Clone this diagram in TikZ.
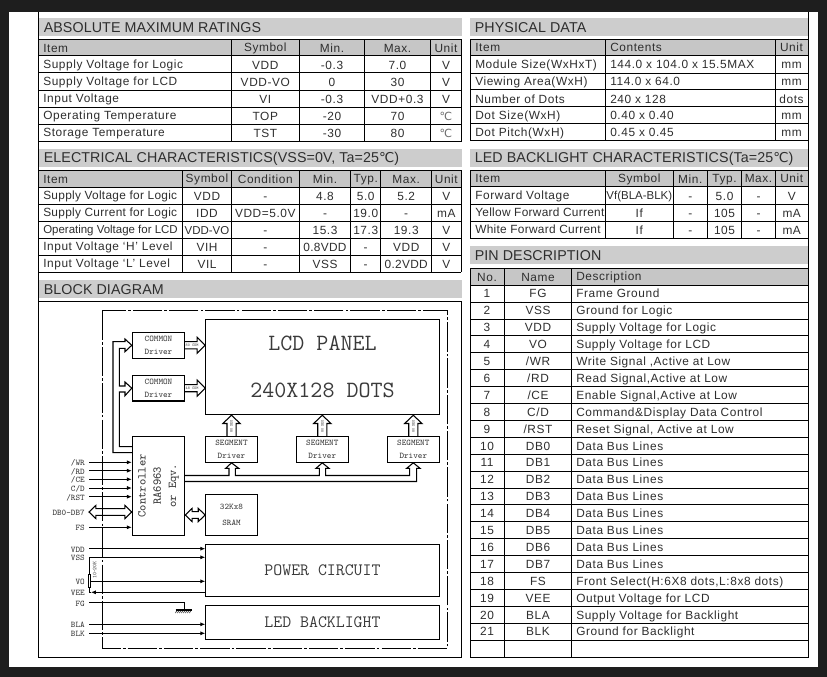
\documentclass[tikz,border=0pt]{standalone}
\usepackage{fontspec}
\usetikzlibrary{arrows.meta,calc,patterns}
\setmainfont{Liberation Sans}
\newfontfamily\tabfont[LetterSpace=5]{Liberation Sans}
\newfontfamily\tightfont{Liberation Sans}
\newfontfamily\midfont[LetterSpace=2.5]{Liberation Sans}
\newfontfamily\headfont[LetterSpace=0.7]{Liberation Sans}
\newfontfamily\dvfont{DejaVu Sans}
\definecolor{sheetdark}{HTML}{1E1E1E}
\definecolor{bandgray}{HTML}{CDCDCD}
\definecolor{headgray}{HTML}{C6C6C6}
\definecolor{inkgray}{HTML}{2E2E2E}
\definecolor{blockink}{HTML}{3A3A3A}
\newcommand{\degcel}{{\dvfont\color{inkgray!70}\fontsize{8.4}{10}\selectfont ℃}}
\newcommand{\degband}{{\dvfont\fontsize{10.2}{11}\selectfont ℃}}
\newcount\cellno
\tikzset{
  x=0.75pt,y=-0.75pt,
  rulex/.style={line width=0.75pt,black},
  bandtxt/.style={font=\headfont\fontsize{10.7}{12}\selectfont,text=inkgray,anchor=west,inner sep=0pt},
  celltxt/.style={font=\tabfont\fontsize{8.9}{10}\selectfont,text=inkgray,inner sep=0pt,text height=6.4pt,text depth=0pt},
  blockbox/.style={draw=black,line width=0.8pt,inner sep=0pt,align=center,text=blockink},
  sigl/.style={line width=0.6pt,black},
  sigtip/.style={sigl,-{Latex[length=3.6pt,width=3pt]}},
  hollow/.style={line width=0.8pt,black,line join=miter},
  pinlab/.style={font=\ttfamily\fontsize{6.5}{8}\selectfont,text=blockink,anchor=east,inner xsep=3pt,inner ysep=0pt,text height=5pt,text depth=0pt},
  tiny/.style={font=\ttfamily\fontsize{3}{3}\selectfont,text=blockink,inner sep=0pt},
}
\newcommand{\cellL}[3]{\global\advance\cellno by 1\relax\node[celltxt,anchor=west,name=cell\the\cellno] at (#1,#2) {#3};}
\newcommand{\cellC}[3]{\global\advance\cellno by 1\relax\node[celltxt,anchor=center,name=cell\the\cellno] at (#1,#2) {#3};}
\newcommand{\bandhead}[6]{%
  \fill[bandgray] (#1,#2) rectangle (#3,#4);
  \node[bandtxt,name=#6] at ({#1+4.5},{(#2+#4)/2+0.8}) {#5};}
\newcommand{\tabgrid}[6]{% x0 x1 ytop yhead rows cols
  \fill[headgray] (#1,#3) rectangle (#2,#4);
  \foreach \yy in {#3,#4,#5} {\draw[rulex] (#1,\yy) -- (#2,\yy);}
  \foreach \xx in {#1,#6,#2} {\pgfmathsetmacro{\ylast}{\lastrow}\draw[rulex] (\xx,#3) -- (\xx,\ylast);}
}
\newcommand{\hollowR}[2]{\draw[hollow] let \p1=#1,\p2=#2 in
  (\x1,{\y1+2.7pt}) -- ({\x2-6pt},{\y1+2.7pt}) -- ({\x2-6pt},{\y1+6pt}) -- (\x2,\y1) -- ({\x2-6pt},{\y1-6pt}) -- ({\x2-6pt},{\y1-2.7pt}) -- (\x1,{\y1-2.7pt});}
\newcommand{\hollowU}[2]{\draw[hollow] let \p1=#1,\p2=#2 in
  ({\x1-3.4pt},\y1) -- ({\x1-3.4pt},{\y2-6.2pt}) -- ({\x1-6.5pt},{\y2-6.2pt}) -- (\x1,\y2) -- ({\x1+6.5pt},{\y2-6.2pt}) -- ({\x1+3.4pt},{\y2-6.2pt}) -- ({\x1+3.4pt},\y1);}
\newcommand{\hollowD}[2]{\draw[hollow] let \p1=#1,\p2=#2 in
  (\x1,\y1) -- ({\x1+5.2pt},{\y1+5pt}) -- ({\x1+5.2pt},{\y1+2.5pt}) -- ({\x2-5.2pt},{\y1+2.5pt}) -- ({\x2-5.2pt},{\y1+5pt}) -- (\x2,\y1) -- ({\x2-5.2pt},{\y1-5pt}) -- ({\x2-5.2pt},{\y1-2.5pt}) -- ({\x1+5.2pt},{\y1-2.5pt}) -- ({\x1+5.2pt},{\y1-5pt}) -- cycle;}
% name x1 y1 x2 y2 size leading text
\newcommand{\blocknode}[8]{\node[blockbox,font=\ttfamily\fontsize{#6}{#7}\selectfont,name=#1,minimum width={(#4-#2)*0.75pt},minimum height={(#5-#3)*0.75pt}] at ({(#2+#4)/2},{(#3+#5)/2}) {#8};}
\begin{document}
\begin{tikzpicture}
\useasboundingbox (0,0) rectangle (827,677);
\fill[sheetdark] (0,0) rectangle (827,677);
\fill[white] (9,12) rectangle (818,667);
% sheet frame
\draw[rulex] (38.5,12) -- (38.5,657) -- (461.5,657) -- (461.5,301) -- (38.5,301);
\draw[rulex] (808,12) -- (808,657) -- (470,657);
% ---- absolute maximum
\bandhead{39}{18}{462}{36}{ABSOLUTE MAXIMUM RATINGS}{hA}
\def\lastrow{141.3}
\tabgrid{38.7}{461.7}{39.5}{56}{73,90.7,107.7,124.7,141.3}{231.3,299.3,364.7,430.3}
\cellL{43}{47.8}{Item}\cellC{265.3}{46.8}{Symbol}\cellC{332}{47.8}{Min.}\cellC{397.5}{47.8}{Max.}\cellC{446}{47.8}{Unit}
\cellL{43}{64}{Supply Voltage for Logic}\cellC{265.3}{65}{VDD}\cellC{332}{65}{-0.3}\cellC{397.5}{65}{7.0}\cellC{446}{65}{V}
\cellL{43}{81}{Supply Voltage for LCD}\cellC{265.3}{82}{VDD-VO}\cellC{332}{82}{0}\cellC{397.5}{82}{30}\cellC{446}{82}{V}
\cellL{43}{98}{Input Voltage}\cellC{265.3}{99}{VI}\cellC{332}{99}{-0.3}\cellC{397.5}{99}{VDD+0.3}\cellC{446}{99}{V}
\cellL{43}{115}{Operating Temperature}\cellC{265.3}{116}{TOP}\cellC{332}{116}{-20}\cellC{397.5}{116}{70}\cellC{446}{116}{\degcel}
\cellL{43}{132}{Storage Temperature}\cellC{265.3}{133}{TST}\cellC{332}{133}{-30}\cellC{397.5}{133}{80}\cellC{446}{133}{\degcel}
% ---- electrical
\bandhead{39}{149}{462}{167}{ELECTRICAL CHARACTERISTICS(VSS=0V, Ta=25\degband)}{hB}
\def\lastrow{272}
\tabgrid{38.7}{461.2}{170.3}{187.3}{204.7,221.3,238.3,255.3,272}{182.7,231.3,299.3,350.7,380.7,431.7}
\cellL{43}{179}{Item}\cellC{207}{178}{Symbol}\cellC{265.3}{179.5}{Condition}\cellC{325}{179.5}{Min.}\cellC{365.7}{178.5}{Typ.}\cellC{406.2}{179.5}{Max.}\cellC{446.3}{179}{Unit}
\cellL{43}{195.5}{\midfont Supply Voltage for Logic}\cellC{207}{196}{VDD}\cellC{265.3}{196}{-}\cellC{325}{196}{4.8}\cellC{365.7}{196}{5.0}\cellC{406.2}{196}{5.2}\cellC{446.3}{196}{V}
\cellL{43}{212}{\midfont Supply Current for Logic}\cellC{207}{213}{IDD}\cellC{265.3}{213}{VDD=5.0V}\cellC{325}{213}{-}\cellC{365.7}{213}{19.0}\cellC{406.2}{213}{-}\cellC{446.3}{213}{mA}
\cellL{43}{229}{\tightfont\fontsize{8.6}{10}\selectfont Operating Voltage for LCD}\cellC{207}{230}{\tightfont\fontsize{8.6}{10}\selectfont VDD-VO}\cellC{265.3}{230}{-}\cellC{325}{230}{15.3}\cellC{365.7}{230}{17.3}\cellC{406.2}{230}{19.3}\cellC{446.3}{230}{V}
\cellL{43}{246}{Input Voltage ‘H’ Level}\cellC{207}{247}{VIH}\cellC{265.3}{247}{-}\cellC{325}{247}{\midfont 0.8VDD}\cellC{365.7}{247}{-}\cellC{406.2}{247}{VDD}\cellC{446.3}{247}{V}
\cellL{43}{263}{Input Voltage ‘L’ Level}\cellC{207}{264}{VIL}\cellC{265.3}{264}{-}\cellC{325}{264}{VSS}\cellC{365.7}{264}{-}\cellC{406.2}{264}{\midfont 0.2VDD}\cellC{446.3}{264}{V}
% ---- physical
\bandhead{470}{18}{808}{36}{PHYSICAL DATA}{hC}
\def\lastrow{141}
\tabgrid{470}{808}{39.3}{56}{73.3,90,107,124,141}{605.3,775.3}
\cellL{475}{47.6}{Item}\cellL{610}{47.6}{Contents}\cellC{791.5}{47.6}{Unit}
\cellL{475}{64.6}{Module Size(WxHxT)}\cellL{610}{64.6}{144.0 x 104.0 x 15.5MAX}\cellC{791.5}{64.6}{mm}
\cellL{475}{81.6}{Viewing Area(WxH)}\cellL{610}{81.6}{114.0 x 64.0}\cellC{791.5}{81.6}{mm}
\cellL{475}{98.8}{Number of Dots}\cellL{610}{98.8}{240 x 128}\cellC{791.5}{98.8}{dots}
\cellL{475}{115.5}{Dot Size(WxH)}\cellL{610}{115.5}{0.40 x 0.40}\cellC{791.5}{115.5}{mm}
\cellL{475}{132.5}{Dot Pitch(WxH)}\cellL{610}{132.5}{0.45 x 0.45}\cellC{791.5}{132.5}{mm}
% ---- LED backlight
\bandhead{470}{149.3}{808}{167}{LED BACKLIGHT CHARACTERISTICS(Ta=25\degband)}{hD}
\def\lastrow{238.3}
\tabgrid{470}{808}{170.3}{186.7}{204.3,221.3,238.3}{605.3,673.3,707.3,741.7,775.3}
\cellL{475}{178.5}{Item}\cellC{639.3}{178}{Symbol}\cellC{690.3}{179}{Min.}\cellC{724.5}{178}{Typ.}\cellC{758.5}{178}{Max.}\cellC{791.7}{178.5}{Unit}
\cellL{475}{195}{Forward Voltage}\cellC{639.3}{195}{\tightfont\fontsize{8.6}{10}\selectfont Vf(BLA-BLK)}\cellC{690.3}{196}{-}\cellC{724.5}{196}{5.0}\cellC{758.5}{196}{-}\cellC{791.7}{196}{V}
\cellL{475}{212.5}{\midfont Yellow Forward Current}\cellC{639.3}{213}{If}\cellC{690.3}{213}{-}\cellC{724.5}{213}{105}\cellC{758.5}{213}{-}\cellC{791.7}{213}{mA}
\cellL{475}{229.5}{\midfont White Forward Current}\cellC{639.3}{230}{If}\cellC{690.3}{230}{-}\cellC{724.5}{230}{105}\cellC{758.5}{230}{-}\cellC{791.7}{230}{mA}
% ---- pin description
\bandhead{470}{246}{808}{264}{PIN DESCRIPTION}{hE}
\fill[headgray] (470,268.3) rectangle (808,285.2);
\foreach \r in {0,...,23} {\draw[rulex] (470,{268.3+16.9*\r}) -- (808,{268.3+16.9*\r});}
\foreach \c in {470,504.3,571.3,808} {\draw[rulex] (\c,268.3) -- (\c,657);}
\cellC{487}{277.5}{No.}\cellC{538}{277.5}{Name}\cellL{576}{276}{Description}
\foreach \n/\nm/\ds [count=\i] in {
 1/FG/{Frame Ground},2/VSS/{Ground for Logic},3/VDD/{Supply Voltage for Logic},4/VO/{Supply Voltage for LCD},
 5/{/WR}/{Write Signal ,Active at Low},6/{/RD}/{Read Signal,Active at Low},7/{/CE}/{Enable Signal,Active at Low},
 8/{C/D}/{Command\&Display Data Control},9/{/RST}/{Reset Signal, Active at Low},
 10/DB0/{Data Bus Lines},11/DB1/{Data Bus Lines},12/DB2/{Data Bus Lines},13/DB3/{Data Bus Lines},
 14/DB4/{Data Bus Lines},15/DB5/{Data Bus Lines},16/DB6/{Data Bus Lines},17/DB7/{Data Bus Lines},
 18/FS/{Front Select(H:6X8 dots,L:8x8 dots)},19/VEE/{Output Voltage for LCD},20/BLA/{Supply Voltage for Backlight},21/BLK/{Ground for Backlight}}
{
 \pgfmathsetmacro{\yc}{276.8+16.9*\i}
 \node[celltxt,name=no\i] at (487,\yc) {\n};
 \node[celltxt,name=nm\i] at (538,\yc) {\nm};
 \node[celltxt,anchor=west,name=ds\i] at (576,\yc) {\ds};
}
% ---- block diagram
\bandhead{39}{280}{462}{298}{BLOCK DIAGRAM}{hF}
\draw[line width=0.7pt,black,dash pattern=on 22pt off 1.6pt on 2pt off 1.6pt] (102.3,310.7) rectangle (447.7,648);
\blocknode{lcd}{205.7}{319.3}{439.3}{414.7}{17.5}{35}{LCD PANEL\\240X128 DOTS}
\blocknode{cmna}{132.3}{332.3}{184.7}{358.3}{6.5}{9.75}{COMMON\\Driver}
\blocknode{cmnb}{132.3}{375.3}{184.7}{401}{6.5}{9.75}{COMMON\\Driver}
\blocknode{ctrl}{132.3}{436.3}{184.7}{535.3}{9}{11.5}{\rotatebox{90}{\parbox{70pt}{\centering Controller\\RA6963\\or Eqv.}}}
\blocknode{sega}{205.7}{436.3}{257.3}{462.3}{6.5}{9.75}{SEGMENT\\Driver}
\blocknode{segb}{296.3}{436.3}{348.3}{462.3}{6.5}{9.75}{SEGMENT\\Driver}
\blocknode{segc}{387.3}{436.3}{439.3}{462.3}{6.5}{9.75}{SEGMENT\\Driver}
\blocknode{sram}{205.7}{494.3}{257.3}{535.3}{6.5}{12}{32Kx8\\SRAM}
\blocknode{pwr}{205.7}{544.3}{439.3}{596.3}{13}{15}{POWER CIRCUIT}
\blocknode{led}{205.7}{605.3}{439.3}{639.3}{13}{15}{LED BACKLIGHT}
% hollow arrows
\hollowR{(cmna.east)}{(cmna.east -| lcd.west)}
\hollowR{(cmnb.east)}{(cmnb.east -| lcd.west)}
\node[tiny,name=tca] at (192,345.5) {80 COM};
\node[tiny,name=tcb] at (192,388.5) {48 COM};
\hollowU{(sega.north)}{(sega.north |- lcd.south)}
\hollowU{(segb.north)}{(segb.north |- lcd.south)}
\hollowU{(segc.north)}{(segc.north |- lcd.south)}
\node[tiny,rotate=90,name=tsa] at (231.5,426.5) {80 SEG};
\node[tiny,rotate=90,name=tsb] at (322.3,426.5) {80 SEG};
\node[tiny,rotate=90,name=tsc] at (413.3,426.5) {80 SEG};
% controller to common drivers
\draw[hollow] (ctrl.west |- 0,452.7) -- (113,452.7) -- (113,341.7) -- (125,341.7) -- (125,339) -- (cmna.west) -- (125,351.7) -- (125,348.3) -- (119.3,348.3) -- (119.3,386) -- (125,386) -- (125,382) -- (cmnb.west) -- (125,395.7) -- (125,392) -- (119.3,392) -- (119.3,446.7) -- (ctrl.west |- 0,446.7);
% controller to segment drivers
\draw[hollow] (ctrl.east |- 0,475.5) -- (229,475.5) -- (229,468.3) -- (225.7,468.3) -- (sega.south) -- (238.7,468.3) -- (235.3,468.3) -- (235.3,475.5)
  -- (319.3,475.5) -- (319.3,468.3) -- (316,468.3) -- (segb.south) -- (329,468.3) -- (325.7,468.3) -- (325.7,475.5)
  -- (409.7,475.5) -- (409.7,468.3) -- (406.7,468.3) -- (segc.south) -- (420,468.3) -- (416.7,468.3) -- (416.7,481.5) -- (ctrl.east |- 0,481.5);
% controller <-> sram
\coordinate (sl) at (ctrl.east |- 0,515);
\coordinate (sr) at (sram.west |- 0,515);
\hollowD{(sl)}{(sr)}
% input pins
\node[pinlab,name=pwr1] at (89,462.3) {/WR};
\node[pinlab,name=prd] at (89,470.7) {/RD};
\node[pinlab,name=pce] at (89,479.3) {/CE};
\node[pinlab,name=pcd] at (89,488) {C/D};
\node[pinlab,name=prst] at (89,496.7) {/RST};
\node[pinlab,name=pdb] at (89,512) {DB0-DB7};
\node[pinlab,name=pfs] at (89,527.3) {FS};
\foreach \p in {pwr1,prd,pce,pcd,prst,pfs} {\draw[sigtip] (\p.east) -- (\p.east -| ctrl.west);}
\hollowD{(pdb.east)}{(pdb.east -| ctrl.west)}
\node[pinlab,name=pvdd] at (89,548.7) {VDD};
\node[pinlab,name=pvss] at (89,557.3) {VSS};
\node[pinlab,name=pvo] at (89,581.3) {VO};
\node[pinlab,name=pvee] at (89,592.3) {VEE};
\node[pinlab,name=pfg] at (89,602.7) {FG};
\node[pinlab,name=pbla] at (89,624.3) {BLA};
\node[pinlab,name=pblk] at (89,633.3) {BLK};
\foreach \p in {pvdd,pvss} {\draw[sigtip] (\p.east) -- (\p.east -| pwr.west);}
\foreach \p in {pbla,pblk} {\draw[sigtip] (\p.east) -- (\p.east -| led.west);}
% potentiometer
\node[draw=black,line width=0.6pt,inner sep=0pt,minimum width=2.2pt,minimum height=9.7pt,name=pot] at (89.4,580.7) {};
\draw[sigl] (pot.north) -- (pot.north |- pvss.east);
\draw[sigtip] (pwr.west |- pvee.east) -- (91,592.3);
\draw[sigl] (pot.south) -- (89.4,592.3) -- (91,592.3);
\draw[sigtip] (pot.east |- pvo.east) -- (pwr.west |- pvo.east);
\node[font=\ttfamily\fontsize{4.2}{5}\selectfont,text=blockink,inner sep=0pt,rotate=90,name=potlab] at (94.7,570) {10-20K};
% ground
\coordinate (gnd) at (184.7,610);
\draw[sigl] (pfg.east) -- (pfg.east -| gnd) -- (gnd);
\draw[line width=0.8pt] (175.7,610) -- (192.3,610);
\foreach \k in {0,...,7} {\draw[line width=0.4pt] ({177+2*\k},610) -- ({175.5+2*\k},613);}
\end{tikzpicture}
\end{document}
